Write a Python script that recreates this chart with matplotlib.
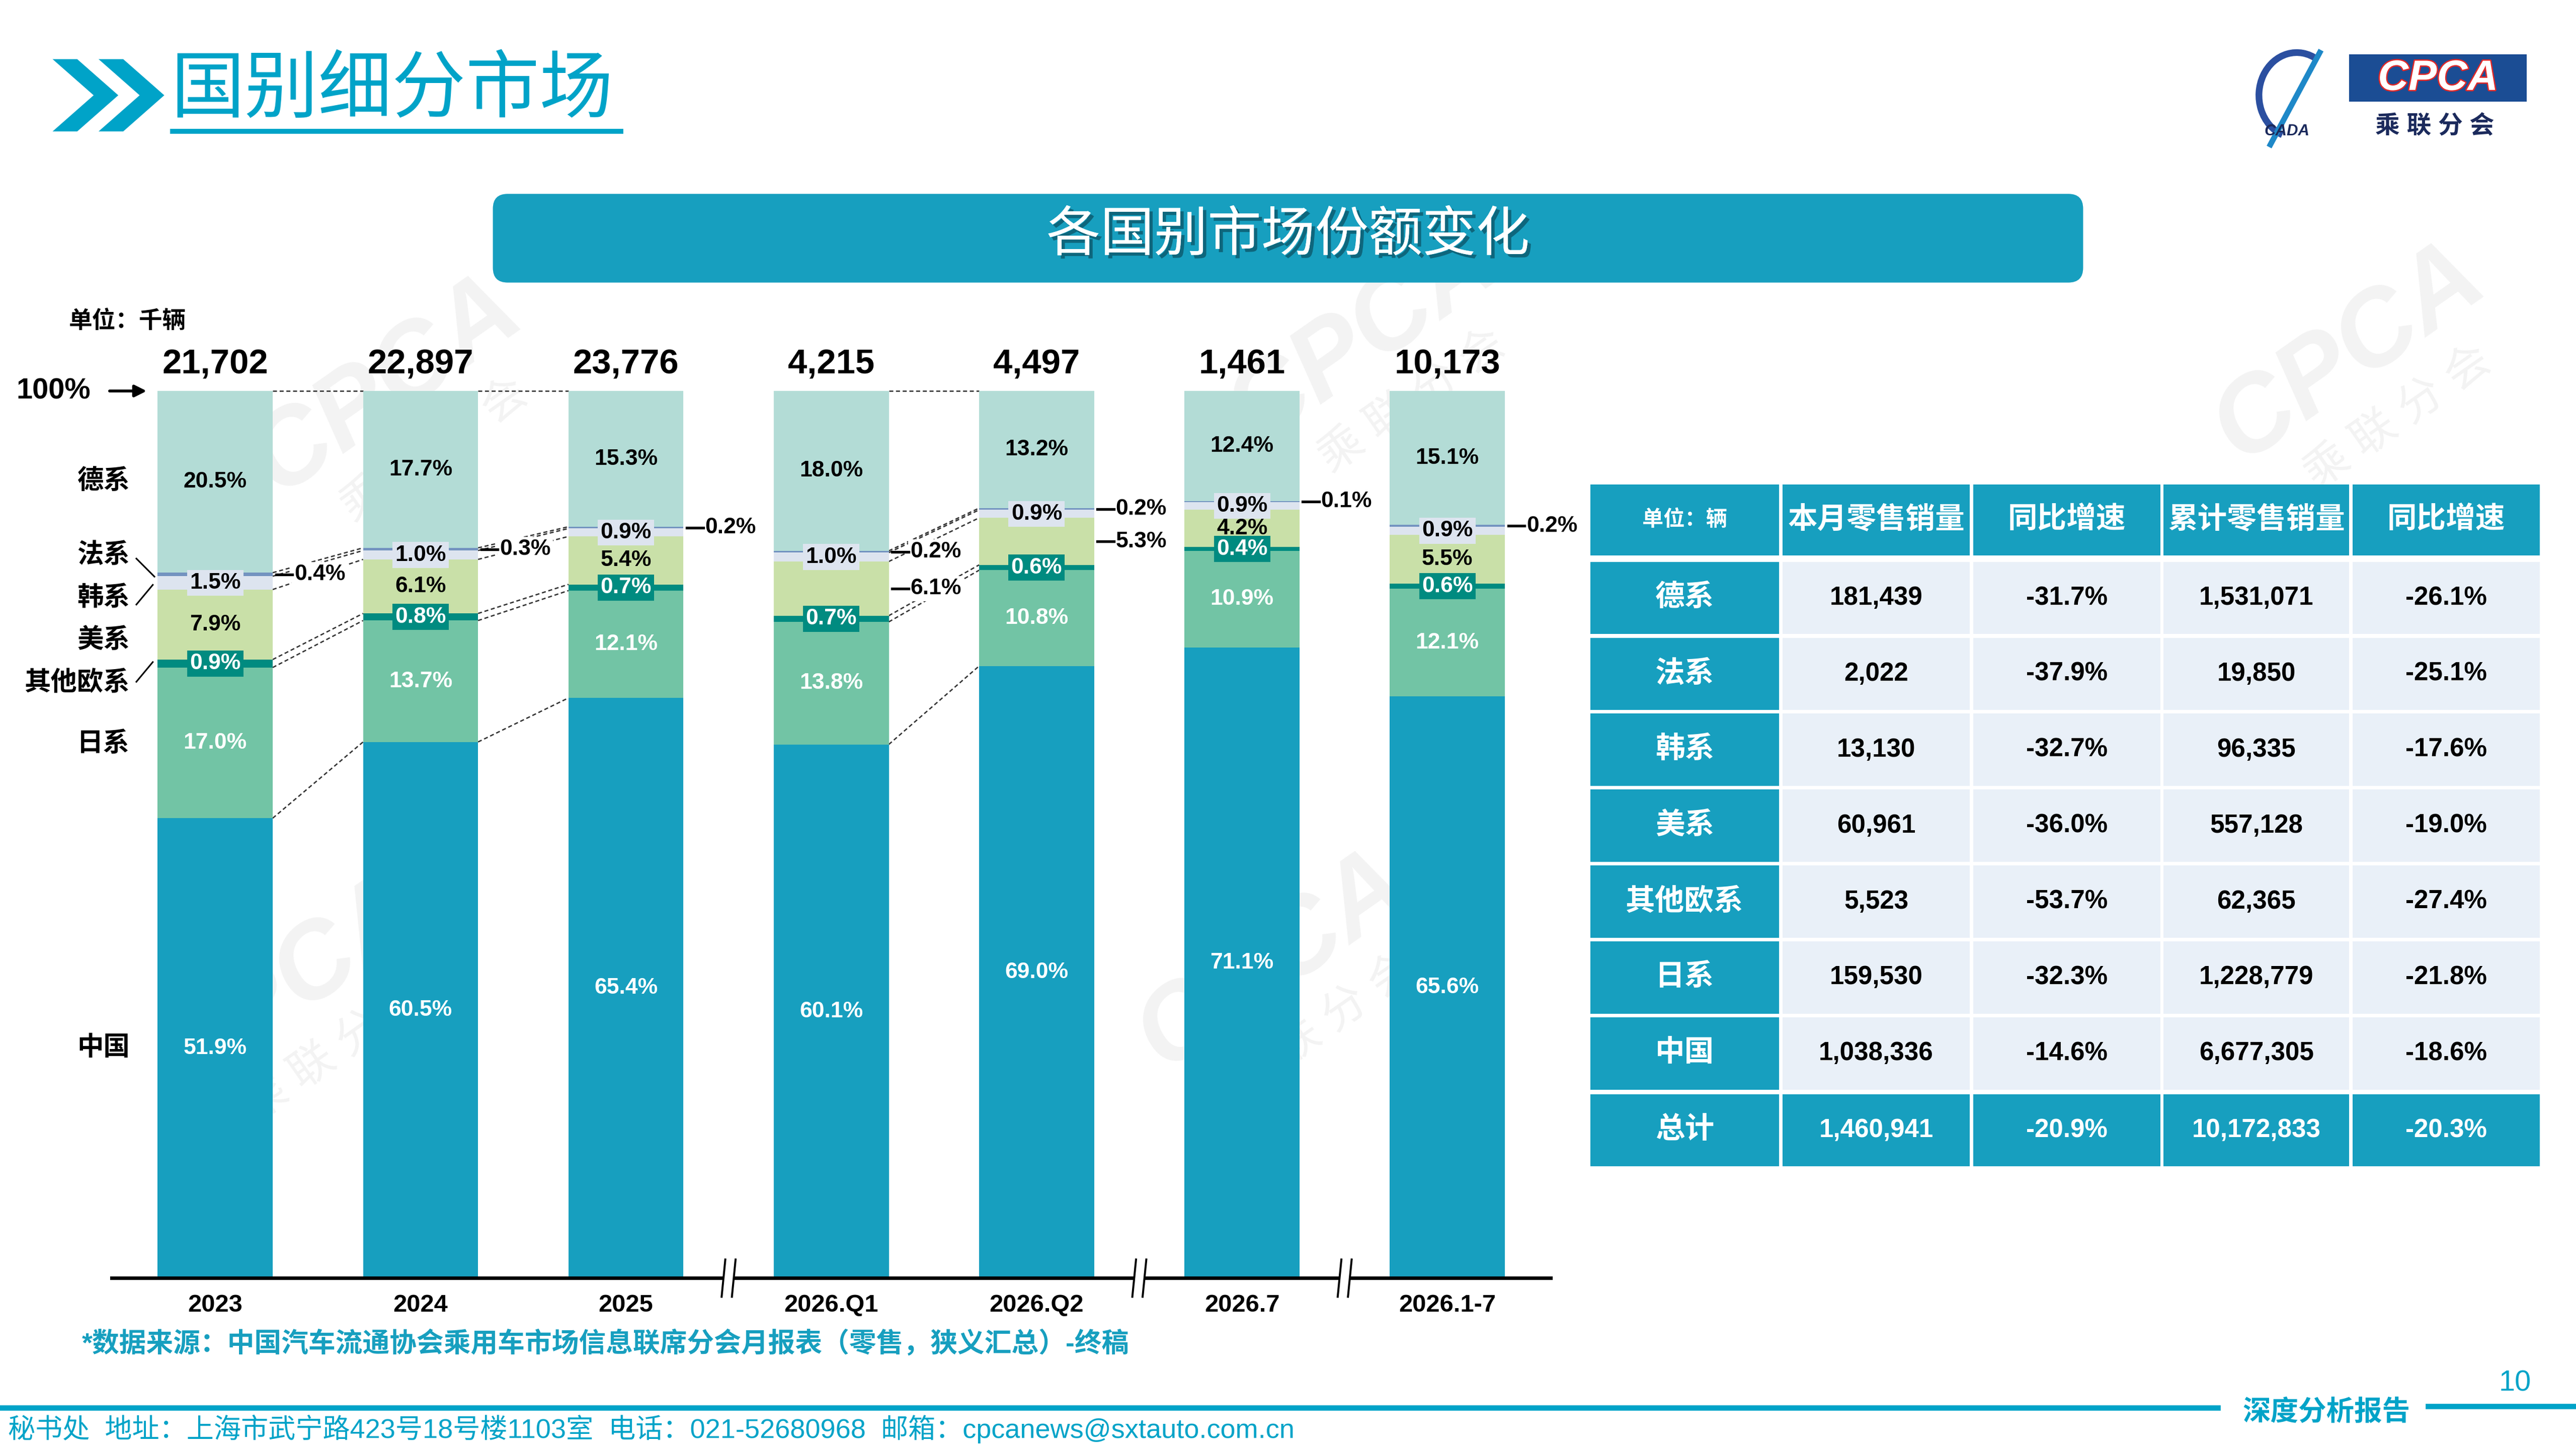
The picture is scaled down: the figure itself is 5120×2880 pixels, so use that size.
import numpy as np
import matplotlib.pyplot as plt
from matplotlib.patches import Rectangle, FancyBboxPatch, Polygon, Arc
import matplotlib.patheffects as pe

plt.rcParams['font.family'] = ['Liberation Sans', 'Noto Sans CJK SC', 'DejaVu Sans']

# ---- chart data (share %, per period) ----
periods = ['2023', '2024', '2025', '2026.Q1', '2026.Q2', '2026.7', '2026.1-7']
totals = ['21,702', '22,897', '23,776', '4,215', '4,497', '1,461', '10,173']
groups = ['中国', '日系', '其他欧系', '美系', '韩系', '法系', '德系']
china = [51.9, 60.5, 65.4, 60.1, 69.0, 71.1, 65.6]
japan = [17.0, 13.7, 12.1, 13.8, 10.8, 10.9, 12.1]
other_eu = [0.9, 0.8, 0.7, 0.7, 0.6, 0.4, 0.6]
usa = [7.9, 6.1, 5.4, 6.1, 5.3, 4.2, 5.5]
korea = [1.5, 1.0, 0.9, 1.0, 0.9, 0.9, 0.9]
france = [0.4, 0.3, 0.2, 0.2, 0.2, 0.1, 0.2]
germany = [20.5, 17.7, 15.3, 18.0, 13.2, 12.4, 15.1]

# ---- table data ----
tbl_header = ['单位：辆', '本月零售销量', '同比增速', '累计零售销量', '同比增速']
tbl_rows = ['德系', '法系', '韩系', '美系', '其他欧系', '日系', '中国']
month_sales = ['181,439', '2,022', '13,130', '60,961', '5,523', '159,530', '1,038,336']
month_yoy = ['-31.7%', '-37.9%', '-32.7%', '-36.0%', '-53.7%', '-32.3%', '-14.6%']
ytd_sales = ['1,531,071', '19,850', '96,335', '557,128', '62,365', '1,228,779', '6,677,305']
ytd_yoy = ['-26.1%', '-25.1%', '-17.6%', '-19.0%', '-27.4%', '-21.8%', '-18.6%']
total_row = ['总计', '1,460,941', '-20.9%', '10,172,833', '-20.3%']

colors = ['#179FBF', '#72C4A5', '#008B80', '#C9E0A8', '#DDE4EF', '#7393C0', '#B3DCD6']
teal = '#179FBF'
cyan = '#00A3C8'

W, H = 1568, 882
fig = plt.figure(figsize=(16, 9), dpi=320)
bg = fig.add_axes([0, 0, 1, 1])
bg.set_xlim(0, W)
bg.set_ylim(H, 0)
bg.axis('off')

# faint watermarks
for wx, wy in [(235, 235), (830, 205), (1430, 215), (175, 600), (775, 585)]:
    bg.text(wx, wy, 'CPCA', fontsize=48, fontweight='bold', style='italic', color='#F3F3F3',
            rotation=35, ha='center', va='center', zorder=0)
    bg.text(wx + 30, wy + 40, '乘 联 分 会', fontsize=20, color='#F3F3F3',
            rotation=35, ha='center', va='center', zorder=0)

# ---- header ----
for dx in (0, 28):
    bg.add_patch(Polygon([(32 + dx, 36), (47 + dx, 36), (72 + dx, 58), (47 + dx, 80),
                          (32 + dx, 80), (57 + dx, 58)], closed=True, fc=cyan, ec='none'))
bg.text(104, 56, '国别细分市场', fontsize=33, fontweight='light', color=cyan,
        ha='left', va='center')
bg.plot([105, 378], [80, 80], color=cyan, lw=2.2)

# logo
bg.add_patch(Rectangle((1430, 33), 108, 29, fc='#1B4D94', ec='none'))
bg.text(1484, 48, 'CPCA', fontsize=19, fontweight='bold', style='italic', color='white',
        ha='center', va='center',
        path_effects=[pe.withStroke(linewidth=1.2, foreground='#E02828')])
bg.text(1482, 77, '乘 联 分 会', fontsize=11, fontweight='bold', color='#1B2A5C',
        ha='center', va='center')
bg.add_patch(Arc((1398, 58), 46, 52, theta1=110, theta2=300, color='#2B4FA0', lw=3))
bg.plot([1412, 1382], [32, 88], color='#1E88C8', lw=2.5)
bg.text(1392, 80, 'CADA', fontsize=7, fontweight='bold', style='italic', color='#1B2A5C',
        ha='center', va='center')

# banner
bg.add_patch(FancyBboxPatch((300, 118), 968, 54, boxstyle='round,pad=0,rounding_size=9',
                            fc=teal, ec='none'))
bg.text(784, 144, '各国别市场份额变化', fontsize=24, color='white', ha='center', va='center',
        path_effects=[pe.withSimplePatchShadow(offset=(1.5, -1.5), shadow_rgbFace='#0B4F60', alpha=0.7),
                      pe.Normal()])

bg.text(42, 196, '单位：千辆', fontsize=10.5, fontweight='bold', ha='left', va='center')

# ---- stacked bars ----
ax = fig.add_axes([68 / W, 1 - 778 / H, (944 - 68) / W, 540 / H])
ax.set_facecolor('none')
x = np.arange(len(periods))
bw = 0.56
ax.set_xlim((68 - 131) / 125, (944 - 131) / 125)
ax.set_ylim(0, 100)

shares = np.array([china, japan, other_eu, usa, korea, france, germany])
norm = shares / shares.sum(axis=0) * 100
tops = np.cumsum(norm, axis=0)
bottoms = tops - norm

for k in range(len(groups)):
    ax.bar(x, norm[k], bw, bottom=bottoms[k], color=colors[k], linewidth=0, zorder=2)

# series connector lines
for i, j in [(0, 1), (1, 2), (3, 4)]:
    for k in range(len(groups)):
        ax.plot([i + bw / 2, j - bw / 2], [tops[k, i], tops[k, j]], ls=(0, (3, 2)),
                lw=0.6, color='#333333', zorder=1, clip_on=False)

usa_outside = {3, 4}
for k in range(len(groups)):
    for i in range(len(periods)):
        mid = bottoms[k, i] + norm[k, i] / 2
        txt = f'{shares[k, i]:.1f}%'
        if k == 5 or (k == 3 and i in usa_outside):
            x0 = i + bw / 2
            ax.text(x0 + 0.105, mid, txt, ha='left', va='center', fontsize=10,
                    fontweight='bold', color='black', zorder=4,
                    bbox=dict(boxstyle='square,pad=0.1', fc='white', ec='none'))
            ax.plot([x0 + 0.016, x0 + 0.096], [mid, mid], color='black', lw=1.2,
                    clip_on=False, zorder=5)
            continue
        tc = 'white' if k in (0, 1, 2) else 'black'
        box = None
        if k in (2, 4):
            box = dict(boxstyle='square,pad=0.12', fc=colors[k], ec='none')
        ax.text(i, mid, txt, ha='center', va='center', fontsize=10, fontweight='bold',
                color=tc, bbox=box, zorder=4)

for i, t in enumerate(totals):
    ax.text(i, 103, t, ha='center', va='center', fontsize=15.5, fontweight='bold')

ax.set_xticks(x, periods, fontsize=11, fontweight='bold')
ax.tick_params(axis='x', length=0, pad=7)
ax.set_yticks([])
for s in ('left', 'right', 'top'):
    ax.spines[s].set_visible(False)
ax.spines['bottom'].set_linewidth(1.6)
ax.spines['bottom'].set_color('black')

# axis breaks
for xb in (2.5, 4.5, 5.5):
    ax.add_patch(Polygon([(xb - 0.033, -0.6), (xb + 0.017, -0.6), (xb + 0.033, 0.6),
                          (xb - 0.017, 0.6)], closed=True, fc='white', ec='none',
                         zorder=5, clip_on=False))
    for o in (-0.025, 0.025):
        ax.plot([xb + o - 0.009, xb + o + 0.009], [-2.1, 2.1], color='black', lw=0.9,
                zorder=6, clip_on=False)

# left category labels
label_y = [638, 453, 416, 390, 364, 338, 293]
for g, yy in zip(groups, label_y):
    bg.text(79, yy, g, fontsize=11.8, fontweight='bold', ha='right', va='center')
bg.plot([83, 94], [340, 351], color='black', lw=0.7)
bg.plot([83, 93], [368, 356], color='black', lw=0.7)
bg.plot([83, 93], [415, 403], color='black', lw=0.7)

bg.text(10, 238, '100%', fontsize=13, fontweight='bold', ha='left', va='center')
bg.annotate('', xy=(92, 238), xytext=(64, 238),
            arrowprops=dict(arrowstyle='-|>', lw=1.3, color='black', mutation_scale=11))

bg.text(50, 818, '*数据来源：中国汽车流通协会乘用车市场信息联席分会月报表（零售，狭义汇总）-终稿',
        fontsize=12.1, fontweight='bold', color=teal, ha='left', va='center')

# ---- table ----
col_x = [968, 1085, 1201, 1317, 1432]
col_w = [115, 114, 114, 113, 114]
light = '#E9F0F8'

def cell(cx, cy, cw, ch, fc, txt, tcol, fs):
    bg.add_patch(Rectangle((cx, cy), cw, ch, fc=fc, ec='none'))
    bg.text(cx + cw / 2, cy + ch / 2, txt, fontsize=fs, fontweight='bold', color=tcol,
            ha='center', va='center')

for c, h in enumerate(tbl_header):
    cell(col_x[c], 295, col_w[c], 43, teal, h, 'white', 9.5 if c == 0 else 13.2)

cols = [tbl_rows, month_sales, month_yoy, ytd_sales, ytd_yoy]
for r in range(len(tbl_rows)):
    ry = 342 + 46.2 * r
    for c in range(5):
        if c == 0:
            cell(col_x[c], ry, col_w[c], 44, teal, cols[c][r], 'white', 13.2)
        else:
            cell(col_x[c], ry, col_w[c], 44, light, cols[c][r], 'black', 11.5)

for c, v in enumerate(total_row):
    cell(col_x[c], 666, col_w[c], 44, teal, v, 'white', 13.2 if c == 0 else 11.5)

# ---- footer ----
bg.plot([0, 1350], [857, 857], color=cyan, lw=2.4)
bg.plot([1478, W], [856, 856], color=cyan, lw=2.4)
bg.text(1416, 860, '深度分析报告', fontsize=12.5, fontweight='bold', color=cyan,
        ha='center', va='center')
bg.text(1531, 842, '10', fontsize=13, color=cyan, ha='center', va='center')
bg.text(5, 870, '秘书处  地址：上海市武宁路423号18号楼1103室  电话：021-52680968  邮箱：cpcanews@sxtauto.com.cn',
        fontsize=12.2, color=cyan, ha='left', va='center')

fig.savefig('out.png', dpi=320)
